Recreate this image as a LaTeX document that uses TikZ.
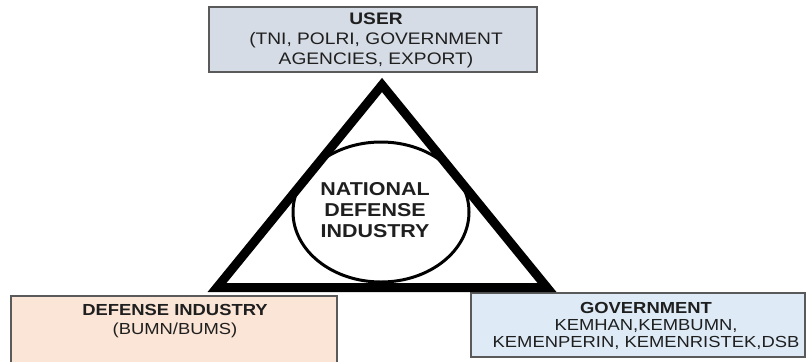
\documentclass[tikz,border=0pt]{standalone}
\usepackage{fontspec}
\setmainfont{Liberation Sans}[FakeStretch=1.15]
\usetikzlibrary{shapes.geometric}
\definecolor{userfill}{HTML}{D6DCE5}
\definecolor{deffill}{HTML}{FBE5D6}
\definecolor{govfill}{HTML}{DEEBF7}
\definecolor{edgegray}{HTML}{5A5A5A}
\begin{document}
\begin{tikzpicture}[x=0.75pt,y=-0.75pt,
  box/.style={draw=edgegray, line width=1.2pt},
  lbl/.style={align=center, text=black!88, inner sep=0pt},
  ring/.style={ellipse, draw=black, line width=2.25pt, minimum width=132pt, minimum height=105pt, inner sep=0pt},
]
\useasboundingbox (0,0) rectangle (806,361);
\clip (0,0) rectangle (806,361);
\fill[white] (0,0) rectangle (806,361);
% boxes
\draw[box, fill=userfill] (209,7) rectangle (537,72);
\draw[box, fill=deffill] (11,296) rectangle (337,372);
\draw[box, fill=govfill] (471,293) rectangle (805,357);
% labels
\node[lbl, font=\fontsize{12.5}{15}\selectfont] (user) at (376,40)
  {\textbf{USER}\\(TNI, POLRI, GOVERNMENT\\AGENCIES, EXPORT)};
\node[lbl, font=\fontsize{12}{14.5}\selectfont] (defense) at (175,321)
  {\textbf{DEFENSE INDUSTRY}\\(BUMN/BUMS)};
\node[lbl, font=\fontsize{12}{13}\selectfont] (gov) at (646,326)
  {\textbf{GOVERNMENT}\\KEMHAN,KEMBUMN,\\KEMENPERIN, KEMENRISTEK,DSB};
% triangle
\coordinate (apex) at (382,85);
\coordinate (bl) at (217,287.5);
\coordinate (br) at (547,287.5);
\draw[line width=6.75pt, line join=miter, miter limit=10] (apex) -- (br) -- (bl) -- cycle;
% centre ellipse
\node[ring] (nat) at (381,212) {};
\node[lbl, font=\bfseries\fontsize{14}{15.75}\selectfont] (natlbl) at (375,210)
  {NATIONAL\\DEFENSE\\INDUSTRY};
\end{tikzpicture}
\end{document}
